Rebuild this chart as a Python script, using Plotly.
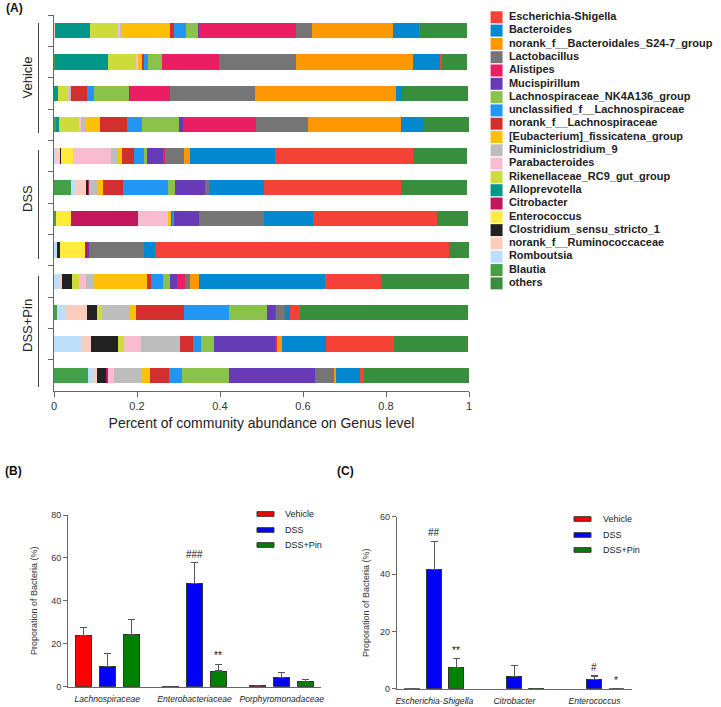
import plotly.graph_objects as go

W, H = 721, 707
FONT = "Liberation Sans, Arial, sans-serif"

def px(x):
    return x / W

def py(y):
    return 1 - y / H

# ---------------- Panel A data ----------------
samples = ["V1", "V2", "V3", "V4", "D1", "D2", "D3", "D4", "P1", "P2", "P3", "P4"]
groups = ["Vehicle", "DSS", "DSS+Pin"]

# legend order (top to bottom)
legend_names = [
    "Escherichia-Shigella", "Bacteroides", "norank_f__Bacteroidales_S24-7_group",
    "Lactobacillus", "Alistipes", "Mucispirillum", "Lachnospiraceae_NK4A136_group",
    "unclassified_f__Lachnospiraceae", "norank_f__Lachnospiraceae",
    "[Eubacterium]_fissicatena_group", "Ruminiclostridium_9", "Parabacteroides",
    "Rikenellaceae_RC9_gut_group", "Alloprevotella", "Citrobacter", "Enterococcus",
    "Clostridium_sensu_stricto_1", "norank_f__Ruminococcaceae", "Romboutsia",
    "Blautia", "others",
]
legend_colors = [
    "#F44336", "#0288D1", "#FF9800", "#757575", "#E91E63", "#673AB7", "#8BC34A",
    "#2196F3", "#D32F2F", "#FFC107", "#BDBDBD", "#F8BBD0", "#CDDC39", "#009688",
    "#C2185B", "#FFEB3B", "#212121", "#FFCCBC", "#BBDEFB", "#43A047", "#388E3C",
]

# relative abundance per sample (V1..V4, D1..D4, P1..P4)
escherichia = [0.002, 0.002, 0.000, 0.000, 0.332, 0.331, 0.300, 0.708, 0.135, 0.024, 0.164, 0.008]
bacteroides = [0.062, 0.068, 0.014, 0.053, 0.206, 0.133, 0.116, 0.027, 0.305, 0.012, 0.106, 0.059]
s24_7 = [0.197, 0.281, 0.341, 0.224, 0.014, 0.000, 0.000, 0.000, 0.022, 0.000, 0.012, 0.002]
lactobacillus = [0.039, 0.185, 0.205, 0.125, 0.046, 0.010, 0.157, 0.133, 0.011, 0.022, 0.000, 0.048]
alistipes = [0.232, 0.138, 0.095, 0.177, 0.003, 0.000, 0.000, 0.000, 0.019, 0.002, 0.006, 0.000]
mucispirillum = [0.002, 0.000, 0.002, 0.008, 0.040, 0.072, 0.062, 0.004, 0.018, 0.019, 0.147, 0.207]
nk4a136 = [0.030, 0.034, 0.086, 0.091, 0.007, 0.016, 0.000, 0.000, 0.016, 0.092, 0.031, 0.114]
uncl_lachno = [0.028, 0.008, 0.016, 0.035, 0.024, 0.109, 0.003, 0.000, 0.030, 0.108, 0.018, 0.030]
norank_lachno = [0.010, 0.006, 0.040, 0.066, 0.028, 0.048, 0.003, 0.000, 0.009, 0.116, 0.032, 0.047]
eubacterium = [0.115, 0.010, 0.000, 0.036, 0.010, 0.015, 0.007, 0.000, 0.128, 0.014, 0.002, 0.020]
ruminiclostridium = [0.004, 0.000, 0.003, 0.010, 0.018, 0.018, 0.000, 0.000, 0.018, 0.068, 0.092, 0.067]
parabacteroides = [0.008, 0.004, 0.003, 0.002, 0.092, 0.000, 0.072, 0.000, 0.018, 0.000, 0.041, 0.014]
rikenellaceae = [0.066, 0.068, 0.025, 0.051, 0.000, 0.000, 0.000, 0.000, 0.017, 0.013, 0.016, 0.000]
alloprevotella = [0.084, 0.128, 0.009, 0.007, 0.000, 0.000, 0.000, 0.000, 0.000, 0.000, 0.000, 0.000]
citrobacter = [0.000, 0.000, 0.000, 0.000, 0.000, 0.002, 0.161, 0.004, 0.000, 0.000, 0.000, 0.004]
enterococcus = [0.000, 0.000, 0.000, 0.000, 0.027, 0.000, 0.038, 0.062, 0.000, 0.000, 0.000, 0.000]
clostridium = [0.000, 0.000, 0.000, 0.000, 0.002, 0.006, 0.000, 0.006, 0.023, 0.023, 0.063, 0.022]
norank_rumino = [0.003, 0.000, 0.000, 0.000, 0.012, 0.027, 0.000, 0.000, 0.009, 0.051, 0.022, 0.010]
romboutsia = [0.000, 0.000, 0.000, 0.000, 0.004, 0.010, 0.000, 0.008, 0.011, 0.022, 0.068, 0.012]
blautia = [0.000, 0.002, 0.000, 0.004, 0.000, 0.040, 0.004, 0.000, 0.000, 0.007, 0.000, 0.082]
others = [0.114, 0.062, 0.158, 0.112, 0.130, 0.157, 0.075, 0.047, 0.210, 0.405, 0.178, 0.255]

abundance = [
    escherichia, bacteroides, s24_7, lactobacillus, alistipes, mucispirillum, nk4a136,
    uncl_lachno, norank_lachno, eubacterium, ruminiclostridium, parabacteroides,
    rikenellaceae, alloprevotella, citrobacter, enterococcus, clostridium,
    norank_rumino, romboutsia, blautia, others,
]

x_ticks = [0, 0.2, 0.4, 0.6, 0.8, 1]
x_ticktext = ["0", "0.2", "0.4", "0.6", "0.8", "1"]

# ---------------- Panel B / C data ----------------
treatments = ["Vehicle", "DSS", "DSS+Pin"]
treat_colors = ["#FF0000", "#0000FF", "#008000"]

fam_cats = ["Lachnospiraceae", "Enterobacteriaceae", "Porphyromonadaceae"]
fam_mean = {
    "Vehicle": [23.8, 0.1, 0.5],
    "DSS": [9.5, 47.9, 4.3],
    "DSS+Pin": [24.4, 7.3, 2.5],
}
fam_err = {
    "Vehicle": [3.9, 0.0, 0.1],
    "DSS": [6.1, 9.9, 2.4],
    "DSS+Pin": [6.8, 3.1, 0.7],
}
fam_marks = [("DSS", 1, "###"), ("DSS+Pin", 1, "**")]

gen_cats = ["Escherichia-Shigella", "Citrobacter", "Enterococcus"]
gen_mean = {
    "Vehicle": [0.05, None, None],
    "DSS": [41.6, 4.2, 3.1],
    "DSS+Pin": [7.3, 0.1, 0.05],
}
gen_err = {
    "Vehicle": [0.0, 0.0, 0.0],
    "DSS": [9.8, 4.0, 1.3],
    "DSS+Pin": [3.2, 0.0, 0.0],
}
gen_marks = [("DSS", 0, "##"), ("DSS+Pin", 0, "**"), ("DSS", 2, "#"), ("DSS+Pin", 2, "*")]

fig = go.Figure()

# ---- Panel A stacked bars (stack order: reversed legend, others last) ----
stack_order = list(range(len(legend_names) - 2, -1, -1)) + [len(legend_names) - 1]
for i in stack_order:
    fig.add_trace(go.Bar(
        x=abundance[i], y=samples, orientation="h",
        marker=dict(color=legend_colors[i], line=dict(width=0)),
        width=0.48, name=legend_names[i], showlegend=False,
        xaxis="x", yaxis="y", hoverinfo="name+x",
    ))

# ---- Panel A legend (swatches + text on hidden axes) ----
fig.add_trace(go.Scatter(
    x=[0.053] * len(legend_names), y=list(range(len(legend_names))),
    mode="markers",
    marker=dict(symbol="square", size=12, color=legend_colors, line=dict(width=0)),
    showlegend=False, hoverinfo="skip", xaxis="x4", yaxis="y4", cliponaxis=False,
))
fig.add_trace(go.Scatter(
    x=[0.105] * len(legend_names), y=list(range(len(legend_names))),
    mode="text",
    text=["<b>" + n + "</b>" for n in legend_names],
    textposition="middle right",
    textfont=dict(family=FONT, size=11, color="#222"),
    showlegend=False, hoverinfo="skip", xaxis="x4", yaxis="y4", cliponaxis=False,
))

# ---- Panels B & C ----
BARGAP = 0.175
slot = (1 - BARGAP) / 3
for t, c in zip(treatments, treat_colors):
    fig.add_trace(go.Bar(
        x=fam_cats, y=fam_mean[t], name=t, offsetgroup=t,
        marker=dict(color=c, line=dict(color="#333", width=1)),
        error_y=dict(type="data", array=fam_err[t], arrayminus=[0, 0, 0], symmetric=False,
                     color="#555", thickness=1.2, width=3.5),
        showlegend=False, xaxis="x2", yaxis="y2",
    ))
    fig.add_trace(go.Bar(
        x=gen_cats, y=gen_mean[t], name=t, offsetgroup=t,
        marker=dict(color=c, line=dict(color="#333", width=1)),
        error_y=dict(type="data", array=gen_err[t], arrayminus=[0, 0, 0], symmetric=False,
                     color="#555", thickness=1.2, width=3.5),
        showlegend=False, xaxis="x3", yaxis="y3",
    ))

annotations = []
shapes = []

for (t, ci, lab) in fam_marks:
    k = treatments.index(t)
    annotations.append(dict(
        x=ci + (k - 1) * slot, y=fam_mean[t][ci] + fam_err[t][ci], xref="x2", yref="y2",
        text=lab, showarrow=False, yanchor="bottom", yshift=1,
        font=dict(family=FONT, size=10, color="#111")))
for (t, ci, lab) in gen_marks:
    k = treatments.index(t)
    annotations.append(dict(
        x=ci + (k - 1) * slot, y=(gen_mean[t][ci] or 0) + gen_err[t][ci], xref="x3", yref="y3",
        text=lab, showarrow=False, yanchor="bottom", yshift=1,
        font=dict(family=FONT, size=10, color="#111")))

# group labels for panel A
grp_text_y = [77.5, 198, 325]
grp_line = [(23, 133), (150, 259), (276, 387)]
for g, ty, (l0, l1) in zip(groups, grp_text_y, grp_line):
    annotations.append(dict(x=px(27), y=py(ty), xref="paper", yref="paper", text=g,
                            textangle=-90, showarrow=False, xanchor="center", yanchor="middle",
                            font=dict(family=FONT, size=13, color="#222")))
    shapes.append(dict(type="line", xref="paper", yref="paper", x0=px(38.5), x1=px(38.5),
                       y0=py(l0), y1=py(l1), line=dict(color="#444", width=1)))

# panel letters
for lab, x, y in [("(A)", 4, 8), ("(B)", 3, 471), ("(C)", 335, 471)]:
    annotations.append(dict(x=px(x), y=py(y), xref="paper", yref="paper", text="<b>" + lab + "</b>",
                            showarrow=False, xanchor="left", yanchor="middle",
                            font=dict(family=FONT, size=12, color="#111")))

# legends for B and C
for (x0, x1, tx, ys) in [(257, 274, 283, [514, 530, 545]), (574, 591, 601, [519, 535, 550])]:
    for t, c, y in zip(treatments, treat_colors, ys):
        shapes.append(dict(type="rect", xref="paper", yref="paper", x0=px(x0), x1=px(x1),
                           y0=py(y + 2.3), y1=py(y - 2.3), fillcolor=c,
                           line=dict(color="#333", width=1)))
        annotations.append(dict(x=px(tx), y=py(y), xref="paper", yref="paper", text=t,
                                showarrow=False, xanchor="left", yanchor="middle",
                                font=dict(family=FONT, size=9, color="#222")))

axis_line = "#666"
fig.update_layout(
    width=W, height=H, margin=dict(l=0, r=0, t=0, b=0, autoexpand=False),
    paper_bgcolor="white", plot_bgcolor="white",
    font=dict(family=FONT, color="#333"),
    barmode="stack", bargap=BARGAP, bargroupgap=0.32,
    annotations=annotations, shapes=shapes,
    xaxis=dict(domain=[px(54), px(469)], range=[0, 1], tickvals=x_ticks, ticktext=x_ticktext,
               ticks="outside", ticklen=5, tickcolor=axis_line, showline=True, linecolor=axis_line,
               showgrid=False, zeroline=False, tickfont=dict(size=11, color="#333"),
               title=dict(text="Percent of community abundance on Genus level",
                          font=dict(size=14, color="#222"), standoff=6),
               anchor="y", automargin=False),
    yaxis=dict(domain=[py(391), py(15)], type="category", categoryorder="array",
               categoryarray=samples, range=[11.5, -0.5], tickson="boundaries",
               ticks="outside", ticklen=5, tickcolor=axis_line, showline=True, linecolor=axis_line,
               showticklabels=False, showgrid=False, zeroline=False, anchor="x", automargin=False),
    xaxis2=dict(domain=[px(68), px(321)], type="category", categoryorder="array",
                categoryarray=fam_cats, range=[-0.45, 2.45], showline=True, linecolor=axis_line,
                ticks="", showgrid=False, zeroline=False, tickangle=0, ticklabelstandoff=4,
                tickfont=dict(size=8.6, color="#222", style="italic"), anchor="y2",
                automargin=False),
    yaxis2=dict(domain=[py(686.7), py(515)], range=[0, 80], tickvals=[0, 20, 40, 60, 80],
                ticks="outside", ticklen=4, tickcolor=axis_line, showline=True, linecolor=axis_line,
                showgrid=False, zeroline=False, tickfont=dict(size=9, color="#333"),
                title=dict(text="Proporation of Bacteria (%)", font=dict(size=9, color="#333"),
                           standoff=12),
                anchor="x2", automargin=False),
    xaxis3=dict(domain=[px(396.7), px(631.7)], type="category", categoryorder="array",
                categoryarray=gen_cats, range=[-0.47, 2.465], showline=True, linecolor=axis_line,
                ticks="", showgrid=False, zeroline=False, tickangle=0, ticklabelstandoff=4,
                tickfont=dict(size=8.6, color="#222", style="italic"), anchor="y3",
                automargin=False),
    yaxis3=dict(domain=[py(688.7), py(516.7)], range=[0, 60], tickvals=[0, 20, 40, 60],
                ticks="outside", ticklen=4, tickcolor=axis_line, showline=True, linecolor=axis_line,
                showgrid=False, zeroline=False, tickfont=dict(size=9, color="#333"),
                title=dict(text="Proporation of Bacteria (%)", font=dict(size=9, color="#333"),
                           standoff=8),
                anchor="x3", automargin=False),
    xaxis4=dict(domain=[px(484), 1.0], range=[0, 1], visible=False, fixedrange=True, anchor="y4"),
    yaxis4=dict(domain=[py(290), py(10.65)], range=[20.5, -0.5], visible=False, fixedrange=True,
                anchor="x4"),
)

fig.write_html(
    "out.html",
    config={"displayModeBar": False},
    post_script="document.body.style.margin='0';document.body.style.overflow='hidden';",
)
